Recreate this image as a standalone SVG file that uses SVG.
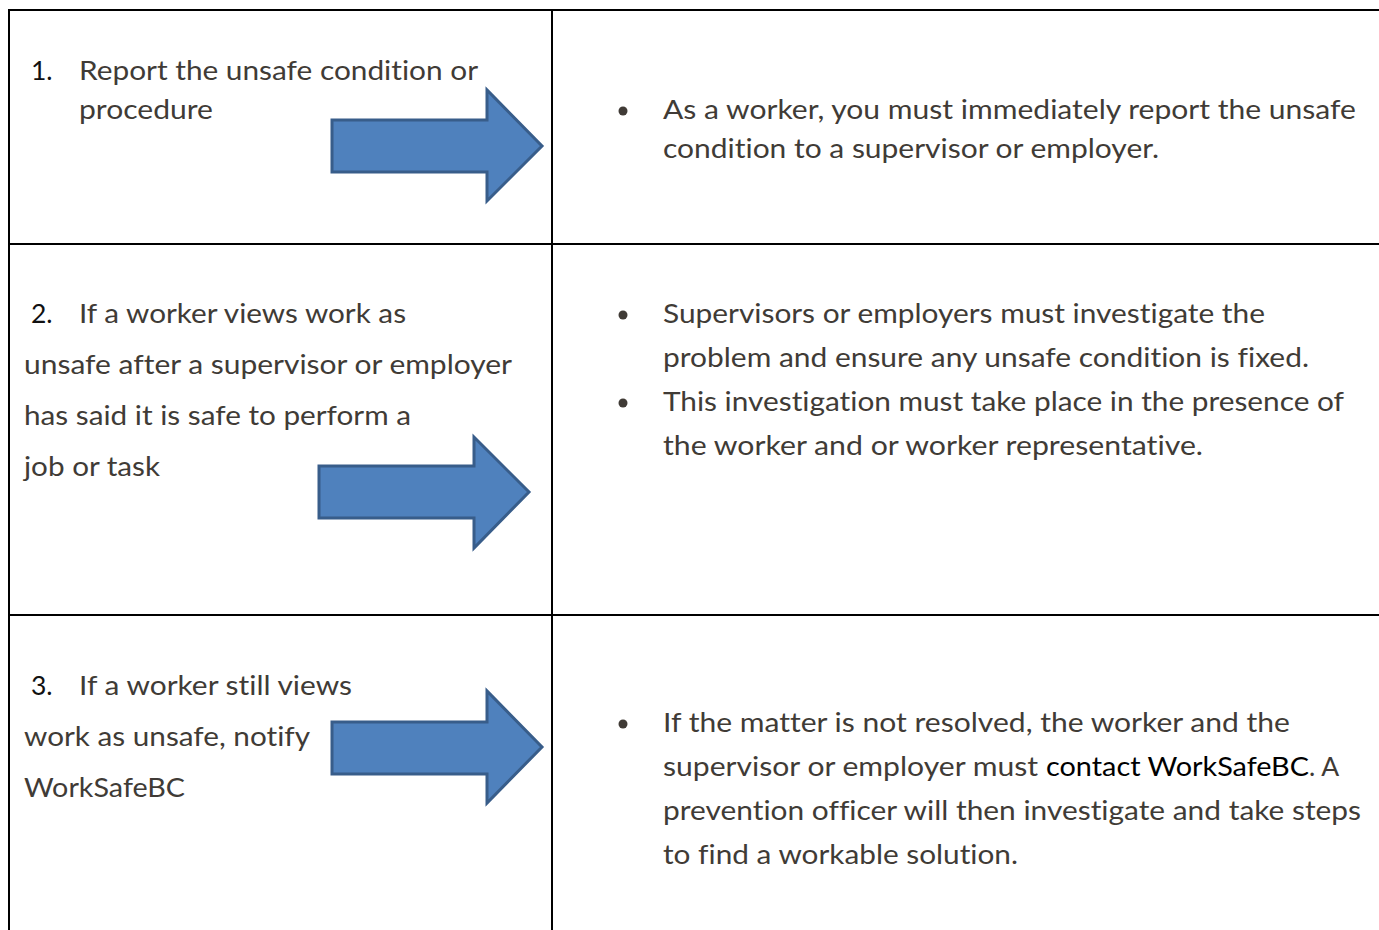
<svg xmlns="http://www.w3.org/2000/svg" width="1379" height="930" viewBox="0 0 1379 930">
<style>
.t{font-family:Lato,"Open Sans","Liberation Sans",sans-serif;font-size:26.5px;fill:#403b36;font-variant-ligatures:none;font-feature-settings:"liga" 0,"clig" 0,"dlig" 0}
.n{fill:#111}
.k{fill:#000}
.grid{stroke:#000;stroke-width:2;fill:none}
.arr{fill:#4f81bd;stroke:#385d8a;stroke-width:3;stroke-linejoin:miter}
.b{fill:#403b36}
</style>
<rect width="1379" height="930" fill="#fff"/>
<g id="table">
<line class="grid" x1="8" y1="10" x2="1379" y2="10"/>
<line class="grid" x1="8" y1="244" x2="1379" y2="244"/>
<line class="grid" x1="8" y1="615" x2="1379" y2="615"/>
<line class="grid" x1="9" y1="9" x2="9" y2="930"/>
<line class="grid" x1="552" y1="9" x2="552" y2="930"/>
</g>
<g id="step1">
<text class="t n" x="31" y="80">1.</text>
<text class="t" x="79" y="80" textLength="399" lengthAdjust="spacingAndGlyphs">Report the unsafe condition or</text>
<text class="t" x="79" y="119" textLength="134" lengthAdjust="spacingAndGlyphs">procedure</text>
</g>
<g id="desc1">
<circle class="b" cx="623" cy="111" r="4.5"/>
<text class="t" x="663" y="119" textLength="693" lengthAdjust="spacingAndGlyphs">As a worker, you must immediately report the unsafe</text>
<text class="t" x="663" y="158" textLength="496" lengthAdjust="spacingAndGlyphs">condition to a supervisor or employer.</text>
</g>
<g id="step2">
<text class="t n" x="31" y="323">2.</text>
<text class="t" x="79" y="323" textLength="327" lengthAdjust="spacingAndGlyphs">If a worker views work as</text>
<text class="t" x="24" y="374" textLength="488" lengthAdjust="spacingAndGlyphs">unsafe after a supervisor or employer</text>
<text class="t" x="24" y="425" textLength="387" lengthAdjust="spacingAndGlyphs">has said it is safe to perform a</text>
<text class="t" x="24" y="476" textLength="136" lengthAdjust="spacingAndGlyphs">job or task</text>
</g>
<g id="desc2">
<circle class="b" cx="623" cy="315" r="4.5"/>
<text class="t" x="663" y="323" textLength="602" lengthAdjust="spacingAndGlyphs">Supervisors or employers must investigate the</text>
<text class="t" x="663" y="367" textLength="646" lengthAdjust="spacingAndGlyphs">problem and ensure any unsafe condition is fixed.</text>
<circle class="b" cx="623" cy="403" r="4.5"/>
<text class="t" x="663" y="411" textLength="681" lengthAdjust="spacingAndGlyphs">This investigation must take place in the presence of</text>
<text class="t" x="663" y="455" textLength="540" lengthAdjust="spacingAndGlyphs">the worker and or worker representative.</text>
</g>
<g id="step3">
<text class="t n" x="31" y="695">3.</text>
<text class="t" x="79" y="695" textLength="273" lengthAdjust="spacingAndGlyphs">If a worker still views</text>
<text class="t" x="24" y="746" textLength="286" lengthAdjust="spacingAndGlyphs">work as unsafe, notify</text>
<text class="t" x="24" y="797" textLength="161" lengthAdjust="spacingAndGlyphs">WorkSafeBC</text>
</g>
<g id="desc3">
<circle class="b" cx="623" cy="724" r="4.5"/>
<text class="t" x="663" y="732" textLength="627" lengthAdjust="spacingAndGlyphs">If the matter is not resolved, the worker and the</text>
<text class="t" x="663" y="776" textLength="375" lengthAdjust="spacingAndGlyphs">supervisor or employer must</text>
<text class="t k" x="1046" y="776" textLength="263" lengthAdjust="spacingAndGlyphs">contact WorkSafeBC</text>
<text class="t" x="1309" y="776">. A</text>
<text class="t" x="663" y="820" textLength="698" lengthAdjust="spacingAndGlyphs">prevention officer will then investigate and take steps</text>
<text class="t" x="663" y="864" textLength="355" lengthAdjust="spacingAndGlyphs">to find a workable solution.</text>
</g>
<g id="connectors">
<polygon class="arr" points="332,120 487,120 487,90 542,146 487,201 487,172 332,172"/>
<polygon class="arr" points="319,466 474,466 474,437 529,492 474,548 474,518 319,518"/>
<polygon class="arr" points="332,722 487,722 487,691 542,747 487,803 487,774 332,774"/>
</g>
</svg>
